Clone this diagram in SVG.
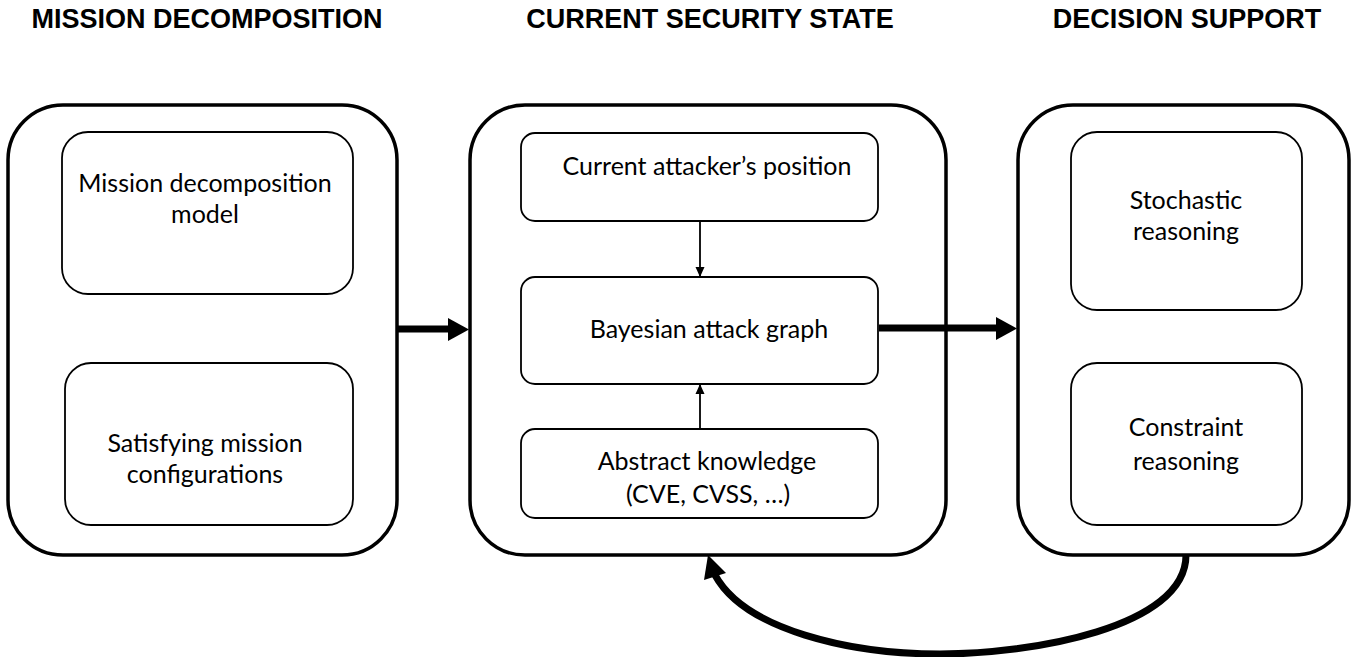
<svg xmlns="http://www.w3.org/2000/svg" width="1353" height="657" viewBox="0 0 1353 657">
<style>
.hd{font-family:"Liberation Sans",Arial,sans-serif;font-weight:bold;font-size:27px;fill:#000;text-anchor:middle}
.tx{font-family:Lato,"Open Sans",sans-serif;font-size:25px;fill:#000;text-anchor:middle}
.outer{fill:#fff;stroke:#000;stroke-width:3.5}
.inner{fill:#fff;stroke:#000;stroke-width:1.8}
.thin{stroke:#000;stroke-width:1.8;fill:none}
.thick{stroke:#000;stroke-width:7;fill:none}
</style>
<defs>
<marker id="sm" markerWidth="10" markerHeight="12" refX="9" refY="6" orient="auto" markerUnits="userSpaceOnUse">
<path d="M0,1.5 L10,6 L0,10.5 Z" fill="#000"/>
</marker>
</defs>
<rect width="1353" height="657" fill="#fff"/>
<text class="hd" x="207" y="28">MISSION DECOMPOSITION</text>
<text class="hd" x="710" y="28">CURRENT SECURITY STATE</text>
<text class="hd" x="1187" y="28">DECISION SUPPORT</text>

<g id="mission">
<rect class="outer" x="8" y="105" width="389" height="450" rx="55" ry="55"/>
</g>
<g id="mission-model">
<rect class="inner" x="62" y="132" width="291" height="162" rx="26" ry="26"/>
<text class="tx" x="205" y="192">Mission decomposition</text>
<text class="tx" x="205" y="223">model</text>
</g>
<g id="mission-config">
<rect class="inner" x="65" y="363" width="288" height="162" rx="26" ry="26"/>
<text class="tx" x="205" y="452">Satisfying mission</text>
<text class="tx" x="205" y="483">configurations</text>
</g>

<g id="security">
<rect class="outer" x="470" y="105" width="476" height="450" rx="55" ry="55"/>
</g>
<g id="attacker">
<rect class="inner" x="521" y="133" width="357" height="88" rx="14" ry="14"/>
<text class="tx" x="707" y="175">Current attacker’s position</text>
</g>
<g id="bag">
<rect class="inner" x="521" y="277" width="357" height="107" rx="14" ry="14"/>
<text class="tx" x="709" y="338">Bayesian attack graph</text>
</g>
<g id="knowledge">
<rect class="inner" x="521" y="429" width="357" height="89" rx="14" ry="14"/>
<text class="tx" x="707" y="470">Abstract knowledge</text>
<text class="tx" x="708" y="503">(CVE, CVSS, …)</text>
</g>

<g id="decision">
<rect class="outer" x="1018" y="105" width="331" height="450" rx="55" ry="55"/>
</g>
<g id="stochastic">
<rect class="inner" x="1071" y="132" width="231" height="178" rx="26" ry="26"/>
<text class="tx" x="1186" y="209">Stochastic</text>
<text class="tx" x="1186" y="240">reasoning</text>
</g>
<g id="constraint">
<rect class="inner" x="1071" y="363" width="231" height="162" rx="26" ry="26"/>
<text class="tx" x="1186" y="436">Constraint</text>
<text class="tx" x="1186" y="470">reasoning</text>
</g>

<g id="connectors">
<line class="thin" x1="700" y1="221" x2="700" y2="276" marker-end="url(#sm)"/>
<line class="thin" x1="700" y1="429" x2="700" y2="385" marker-end="url(#sm)"/>
<line class="thick" x1="397" y1="329" x2="450" y2="329"/>
<path d="M448,318 L469,329.5 L448,341 Z" fill="#000"/>
<line class="thick" x1="879" y1="328" x2="998" y2="328"/>
<path d="M996,317 L1017,328.5 L996,340 Z" fill="#000"/>
<path class="thick" d="M1186,555 C1186,628 1030,654 940,654 C850,654 745,630 715,575"/>
<path d="M708,555 L704,580 L726,573 Z" fill="#000"/>
</g>
</svg>
